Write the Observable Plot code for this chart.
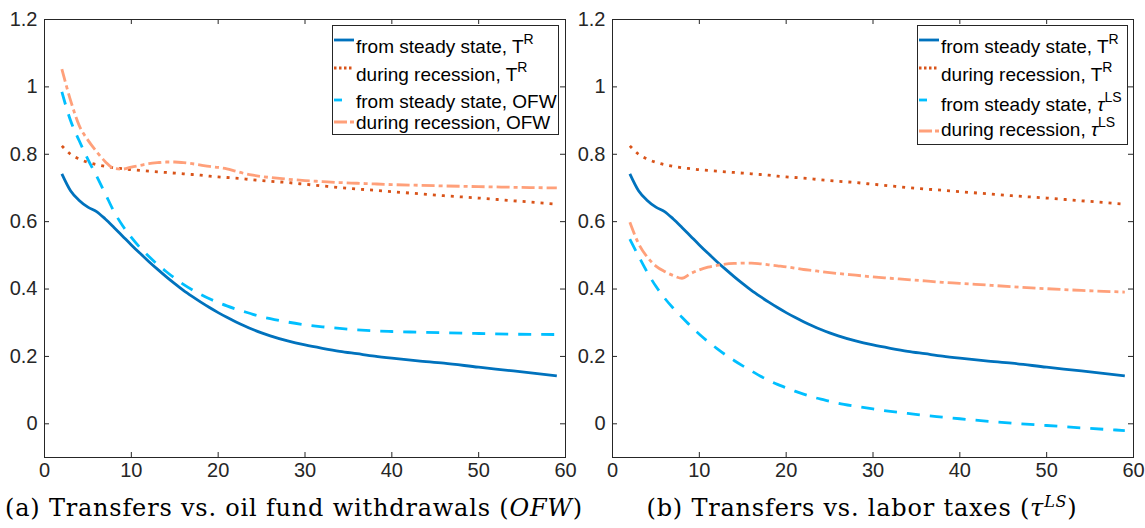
<!DOCTYPE html>
<html><head><meta charset="utf-8">
<script src="https://cdn.jsdelivr.net/npm/d3@7"></script>
<script src="https://cdn.jsdelivr.net/npm/@observablehq/plot@0.6"></script>
<style>
body{margin:0;background:#fff;}
#wrap{position:relative;width:1145px;height:528px;overflow:hidden;font-family:"Liberation Sans",Arial,sans-serif;}
.panel{position:absolute;top:0;}
.legend{position:absolute;background:#fff;border:1px solid #262626;box-sizing:border-box;}
.ltext{position:absolute;font-size:19px;line-height:19px;color:#000;white-space:nowrap;}
.ltext sup{font-size:14px;vertical-align:0.62em;line-height:0;}
.caption{position:absolute;top:496px;font-family:"DejaVu Serif",serif;font-size:24px;line-height:24px;letter-spacing:0.8px;color:#000;text-align:center;white-space:nowrap;}
.caption sup{font-size:16px;vertical-align:0.55em;line-height:0;}
</style></head>
<body><div id="wrap"></div>
<script>
// time grid (periods)
const t = [2,3,4,5,6,7,8,9,10,11,12,13,14,15,16,17,18,19,20,21,22,23,24,25,26,28,30,32,34,36,38,40,43,46,50,54,59];
// T^R from steady state (both panels)
const trSteady = [.742,.692,.663,.643,.630,.608,.583,.557,.531,.506,.482,.459,.437,.416,.396,.378,.361,.345,.330,.316,.303,.291,.280,.270,.261,.246,.234,.224,.215,.208,.201,.195,.187,.180,.168,.157,.142];
// T^R during recession (both panels)
const trRecession = [.825,.800,.786,.776,.769,.764,.760,.757,.754,.752,.750,.748,.746,.744,.742,.740,.738,.735,.733,.731,.729,.727,.724,.722,.720,.716,.711,.706,.701,.697,.693,.689,.683,.677,.670,.662,.652];
// OFW from steady state (panel a)
const ofwSteady = [.985,.900,.840,.785,.735,.683,.630,.588,.553,.523,.497,.473,.452,.432,.414,.398,.384,.371,.360,.350,.341,.333,.325,.318,.312,.302,.294,.288,.283,.279,.276,.274,.272,.270,.268,.266,.265];
// OFW during recession (panel a)
const ofwRecession = [1.053,.960,.885,.842,.808,.778,.758,.756,.762,.767,.772,.775,.777,.777,.775,.772,.768,.764,.761,.757,.750,.743,.738,.734,.731,.726,.722,.719,.716,.714,.712,.710,.708,.706,.704,.702,.700];
// tau^LS from steady state (panel b)
const tauSteady = [.548,.498,.450,.408,.373,.343,.316,.290,.266,.244,.224,.205,.188,.172,.157,.142,.129,.117,.107,.097,.088,.080,.073,.067,.061,.052,.044,.037,.031,.025,.020,.015,.008,.002,-.005,-.012,-.020];
// tau^LS during recession (panel b)
const tauRecession = [.598,.535,.495,.468,.452,.440,.432,.446,.457,.465,.470,.474,.476,.477,.477,.475,.472,.469,.466,.462,.458,.455,.452,.449,.446,.441,.436,.432,.428,.424,.420,.417,.412,.407,.401,.396,.391];

const yTicks = [0,0.2,0.4,0.6,0.8,1,1.2];
const xTicks = [0,10,20,30,40,50,60];

const legendA = ['from steady state, T<sup>R</sup>','during recession, T<sup>R</sup>','from steady state, OFW','during recession, OFW'];
const legendB = ['from steady state, T<sup>R</sup>','during recession, T<sup>R</sup>','from steady state, <i>τ</i><sup>LS</sup>','during recession, <i>τ</i><sup>LS</sup>'];
const captionA = '(a) Transfers vs. oil fund withdrawals (<i>OFW</i>)';
const captionB = '(b) Transfers vs. labor taxes (<i>τ</i><sup><i>LS</i></sup>)';

const styles = [
  {stroke:"#0072BD", strokeWidth:2.8, dash:null, ldash:null},
  {stroke:"#D95319", strokeWidth:2.8, dash:"3,6", ldash:"2.5,2.5"},
  {stroke:"#00BFFF", strokeWidth:2.8, dash:"13,10", ldash:"8,20"},
  {stroke:"#FFA07A", strokeWidth:2.8, dash:"13,4,4,4", ldash:"13,3,4,10"}
];

const toRows = (vals) => t.map((x,i)=>({t:x, v:vals[i]}));

function panel(seriesList, ml, mr) {
  const pw = 521, ph = 438;
  const marks = [
    Plot.frame({stroke:"#262626", strokeWidth:1}),
    Plot.tickY(yTicks, {y:d=>d, insetRight: pw-5, stroke:"#262626"}),
    Plot.tickY(yTicks, {y:d=>d, insetLeft: pw-5, stroke:"#262626"}),
    Plot.tickX(xTicks, {x:d=>d, insetTop: ph-5, stroke:"#262626"}),
    Plot.tickX(xTicks, {x:d=>d, insetBottom: ph-5, stroke:"#262626"}),
    Plot.axisY(yTicks, {tickSize:0, tickPadding:7, tickFormat:d=>String(d), label:null}),
    Plot.axisX(xTicks, {tickSize:0, tickPadding:5, tickFormat:d=>String(d), label:null})
  ];
  seriesList.forEach((vals,i)=>{
    const s = styles[i];
    marks.push(Plot.line(toRows(vals), {x:"t", y:"v", stroke:s.stroke, strokeWidth:s.strokeWidth,
      strokeDasharray:s.dash, strokeLinecap:"butt", curve:"monotone-x"}));
  });
  return Plot.plot({
    width: ml+pw+mr, height: 487, marginLeft: ml, marginRight: mr, marginTop: 19, marginBottom: 30,
    x:{domain:[0,60], label:null}, y:{domain:[-0.1,1.2], label:null},
    style:{fontFamily:'"Liberation Sans",Arial,sans-serif', fontSize:"20px", color:"#262626", background:"transparent", overflow:"visible"},
    marks
  });
}

const wrap = document.getElementById("wrap");
const pA = panel([trSteady, trRecession, ofwSteady, ofwRecession], 44, 7);
pA.classList.add("panel"); pA.style.left = "0px"; wrap.appendChild(pA);
const pB = panel([trSteady, trRecession, tauSteady, tauRecession], 44, 12);
pB.classList.add("panel"); pB.style.left = "568px"; wrap.appendChild(pB);

function legend(labels, box, rows) {
  const lg = document.createElement("div");
  lg.className = "legend";
  Object.assign(lg.style, {left:box.x+"px", top:box.y+"px", width:box.w+"px", height:box.h+"px"});
  wrap.appendChild(lg);
  labels.forEach((lab,i)=>{
    const s = styles[i], r = rows[i];
    const sv = document.createElementNS("http://www.w3.org/2000/svg","svg");
    sv.setAttribute("width","22"); sv.setAttribute("height","6");
    sv.style.left = (box.x+1)+"px"; sv.style.top = (r.sy-3)+"px"; sv.style.position="absolute";
    const ln = document.createElementNS("http://www.w3.org/2000/svg","line");
    ln.setAttribute("x1","1"); ln.setAttribute("x2","21"); ln.setAttribute("y1","3"); ln.setAttribute("y2","3");
    ln.setAttribute("stroke", s.stroke); ln.setAttribute("stroke-width","2.8");
    if (s.ldash) ln.setAttribute("stroke-dasharray", s.ldash);
    sv.appendChild(ln); wrap.appendChild(sv);
    const tx = document.createElement("div");
    tx.className = "ltext"; tx.innerHTML = lab;
    tx.style.left = (box.x+24)+"px"; tx.style.top = (r.by-15)+"px";
    wrap.appendChild(tx);
  });
}
legend(legendA, {x:332, y:25, w:227, h:110}, [{sy:40,by:52},{sy:68,by:80},{sy:100,by:107},{sy:122,by:128}]);
legend(legendB, {x:917, y:25, w:211, h:120}, [{sy:40,by:52},{sy:68,by:80},{sy:100,by:110},{sy:131,by:135}]);

function caption(html, cx) {
  const c = document.createElement("div");
  c.className = "caption"; c.innerHTML = html;
  c.style.left = (cx-300)+"px"; c.style.width = "600px";
  wrap.appendChild(c);
}
caption(captionA, 294);
caption(captionB, 862);
</script></body></html>
